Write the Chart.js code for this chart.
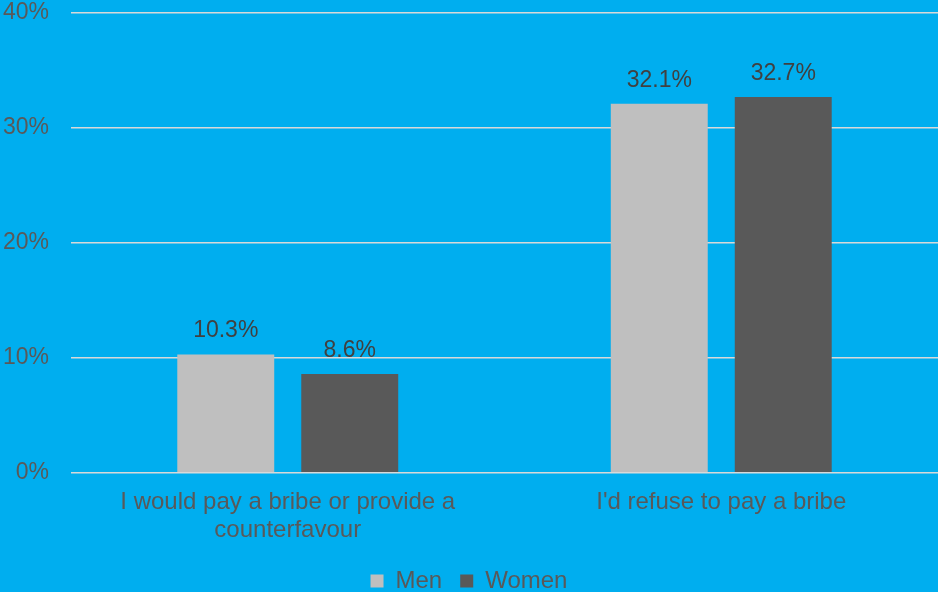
<!DOCTYPE html>
<html>
<head>
<meta charset="utf-8">
<script src="https://cdn.jsdelivr.net/npm/chart.js@4/dist/chart.umd.min.js"></script>
<style>
  html, body { margin: 0; padding: 0; background: #00AEEF; }
  #wrap { width: 938px; height: 592px; position: relative; }
</style>
</head>
<body>
<div id="wrap"><canvas id="c"></canvas></div>
<script>
// Survey answers by gender (share of respondents, %)
const categories = [
  ['I would pay a bribe or provide a', 'counterfavour'],
  "I'd refuse to pay a bribe"
];
const seriesNames = ['Men', 'Women'];
const menValues = [10.3, 32.1];
const womenValues = [8.6, 32.7];
const yTicks = [0, 10, 20, 30, 40];

const FONT = 'Liberation Sans, Arial, sans-serif';
const TEXT = '#595959';

// Writes each bar's value above it
const valueLabels = {
  id: 'valueLabels',
  afterDatasetsDraw(chart) {
    const ctx = chart.ctx;
    ctx.save();
    ctx.font = '23px ' + FONT;
    ctx.fillStyle = '#404040';
    ctx.textAlign = 'center';
    ctx.textBaseline = 'alphabetic';
    chart.data.datasets.forEach((ds, i) => {
      chart.getDatasetMeta(i).data.forEach((bar, j) => {
        ctx.fillText(ds.data[j].toFixed(1) + '%', bar.x, bar.y - 17);
      });
    });
    ctx.restore();
  }
};

new Chart(document.getElementById('c'), {
  type: 'bar',
  data: {
    labels: categories,
    datasets: [
      { label: seriesNames[0], data: menValues, backgroundColor: '#BFBFBF',
        categoryPercentage: 0.572, barPercentage: 0.782 },
      { label: seriesNames[1], data: womenValues, backgroundColor: '#595959',
        categoryPercentage: 0.572, barPercentage: 0.782 }
    ]
  },
  options: {
    responsive: true,
    maintainAspectRatio: false,
    animation: false,
    layout: { padding: { top: 0, right: 0, left: 0, bottom: -11 } },
    plugins: {
      tooltip: { enabled: false },
      legend: {
        position: 'bottom',
        labels: {
          color: TEXT,
          font: { family: FONT, size: 24 },
          boxWidth: 13,
          boxHeight: 13,
          padding: 18
        }
      }
    },
    scales: {
      x: {
        grid: { display: false, drawTicks: false },
        border: { display: false },
        ticks: { color: TEXT, font: { family: FONT, size: 24, lineHeight: 1.17 }, padding: 15 },
        afterFit(scale) { scale.height -= 8; }
      },
      y: {
        min: yTicks[0],
        max: yTicks[yTicks.length - 1],
        afterBuildTicks(scale) { scale.ticks = yTicks.map(v => ({ value: v })); },
        afterFit(scale) {
          scale.width = 71;
          scale.paddingTop = 13;
          scale.paddingBottom = 13;
        },
        grid: { color: '#D9D9D9', lineWidth: 1.5, drawTicks: false },
        border: { display: false },
        ticks: {
          color: TEXT,
          font: { family: FONT, size: 23 },
          padding: 22,
          callback: v => v + '%'
        }
      }
    }
  },
  plugins: [valueLabels]
});
</script>
</body>
</html>
